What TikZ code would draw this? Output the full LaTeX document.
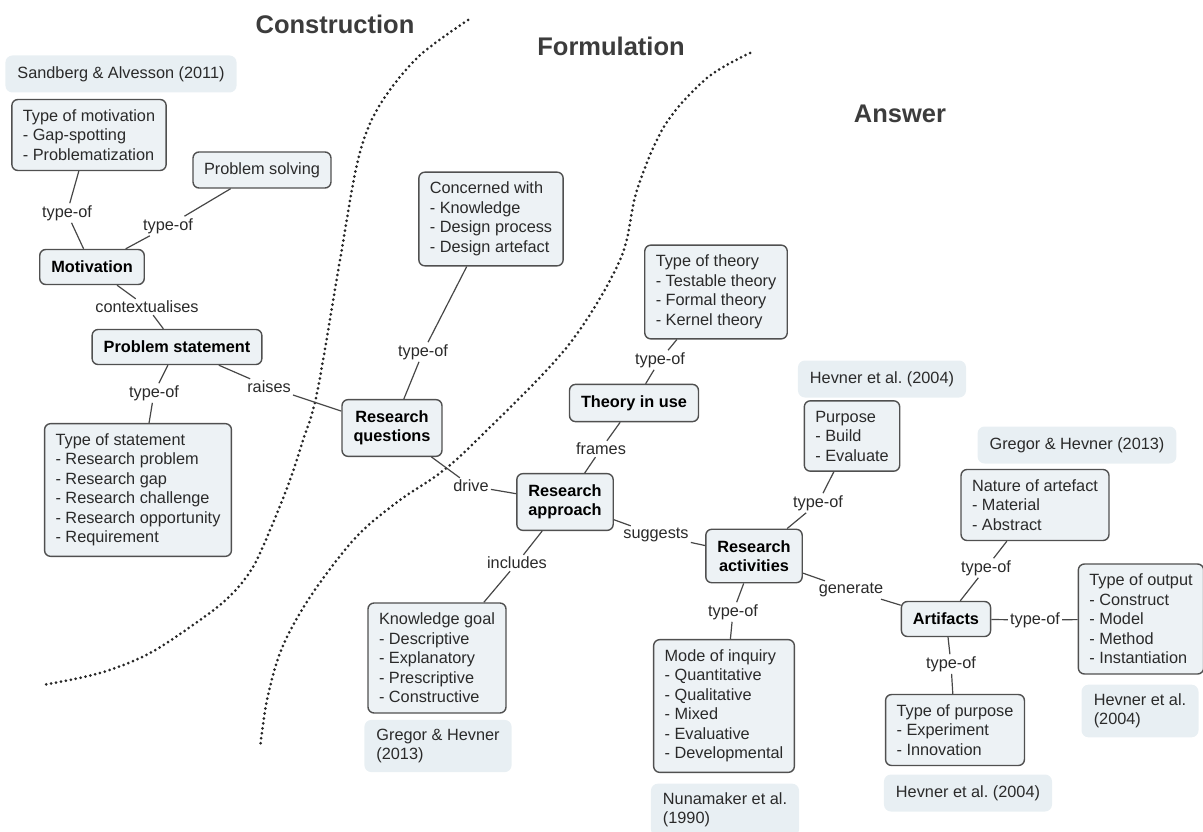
\documentclass[tikz,border=0pt]{standalone}
\usepackage{fontspec}
\setmainfont{Liberation Sans}
\frenchspacing
\definecolor{conceptfill}{HTML}{EDF2F5}
\definecolor{reffill}{HTML}{E8EFF3}
\definecolor{bordergray}{HTML}{505050}
\definecolor{linegray}{HTML}{474747}
\definecolor{textgray}{HTML}{2A2A2A}
\definecolor{titlegray}{HTML}{3C3C3C}
\tikzset{
  concept/.style={draw=bordergray, fill=conceptfill, rounded corners=6pt, line width=1.4pt,
    inner xsep=11pt, inner ysep=10pt, minimum height=36pt, align=left, text=textgray,
    font=\fontsize{16.3}{19.5}\selectfont},
  keyc/.style={draw=bordergray, fill=conceptfill, rounded corners=6pt, line width=1.4pt,
    inner xsep=11.5pt, inner ysep=11pt, minimum height=35pt, align=center, text=black,
    font=\fontsize{16.3}{19.5}\selectfont\bfseries},
  ref/.style={fill=reffill, rounded corners=7pt, inner xsep=12pt, inner ysep=9pt,
    minimum height=37pt, align=left, text=textgray, font=\fontsize{16.3}{19.5}\selectfont},
  lbl/.style={inner sep=2pt, text=textgray, font=\fontsize{16.3}{18}\selectfont},
  link/.style={draw=linegray, line width=1.2pt},
  title/.style={text=titlegray, font=\fontsize{25.5}{30}\selectfont\bfseries},
  divider/.style={draw=black!85, line width=3pt, dash pattern=on 0pt off 5pt, line cap=round}
}
\begin{document}
\begin{tikzpicture}[x=1pt,y=-1pt]
\useasboundingbox (0,0) rectangle (1203,832);

% titles
\node[title] (tcons) at (335,24) {Construction};
\node[title] (tform) at (611,46) {Formulation};
\node[title] (tans) at (900,114) {Answer};

% dividers
\draw[divider] plot[smooth, tension=0.55] coordinates {(468,20) (417,58) (378,108) (358,160) (340,260) (317,393) (303,440) (290,480) (273,523) (253,567) (230,596) (200,620) (150,653) (100,673) (43,685)};
\draw[divider] plot[smooth, tension=0.55] coordinates {(750,53) (707,78) (665,125) (637,190) (620,260) (567,347) (477,440) (440,473) (400,500) (360,533) (327,573) (300,613) (280,653) (267,700) (260,748)};

% reference boxes
\node[ref] (rsand) at (121,74) {Sandberg \& Alvesson (2011)};
\node[ref] (rhev1) at (882,379) {Hevner et al. (2004)};
\node[ref] (rgre1) at (1077,445) {Gregor \& Hevner (2013)};
\node[ref, minimum width=144pt] (rgre2) at (438,746) {Gregor \& Hevner\\(2013)};
\node[ref, minimum width=117pt] (rhev2) at (1140,711) {Hevner et al.\\(2004)};
\node[ref] (rhev3) at (968,793) {Hevner et al. (2004)};
\node[ref, minimum width=147pt] (rnuna) at (725,810) {Nunamaker et al.\\(1990)};

% key concepts
\node[keyc] (motiv) at (92,267) {Motivation};
\node[keyc] (probst) at (177,347) {Problem statement};
\node[keyc] (rq) at (392,428) {Research\\questions};
\node[keyc] (theory) at (634,403) {Theory in use};
\node[keyc] (rapp) at (565,502) {Research\\approach};
\node[keyc] (ract) at (754,556) {Research\\activities};
\node[keyc] (artif) at (946,619) {Artifacts};

% detail concepts
\node[concept] (tmot) at (89,135) {Type of motivation\\- Gap-spotting\\- Problematization};
\node[concept] (psolv) at (262,170) {Problem solving};
\node[concept] (tstat) at (138,490) {Type of statement\\- Research problem\\- Research gap\\- Research challenge\\- Research opportunity\\- Requirement};
\node[concept] (concw) at (491,219) {Concerned with\\- Knowledge\\- Design process\\- Design artefact};
\node[concept] (ttheo) at (716,292) {Type of theory\\- Testable theory\\- Formal theory\\- Kernel theory};
\node[concept] (purp) at (852,436) {Purpose\\- Build\\- Evaluate};
\node[concept] (natart) at (1035,505) {Nature of artefact\\- Material\\- Abstract};
\node[concept] (tout) at (1141,619) {Type of output\\- Construct\\- Model\\- Method\\- Instantiation};
\node[concept] (tpurp) at (955,730) {Type of purpose\\- Experiment\\- Innovation};
\node[concept] (kgoal) at (437,658) {Knowledge goal\\- Descriptive\\- Explanatory\\- Prescriptive\\- Constructive};
\node[concept] (mode) at (724,706) {Mode of inquiry\\- Quantitative\\- Qualitative\\- Mixed\\- Evaluative\\- Developmental};

% link labels
\node[lbl] (l1) at (67,213) {type-of};
\node[lbl] (l2) at (168,226) {type-of};
\node[lbl] (l3) at (147,307) {contextualises};
\node[lbl] (l4) at (154,393) {type-of};
\node[lbl] (l5) at (269,387) {raises};
\node[lbl] (l6) at (423,352) {type-of};
\node[lbl] (l7) at (660,360) {type-of};
\node[lbl] (l8) at (601,449) {frames};
\node[lbl] (l9) at (471,486) {drive};
\node[lbl] (l10) at (656,535) {suggests};
\node[lbl] (l11) at (517,563) {includes};
\node[lbl] (l12) at (818,503) {type-of};
\node[lbl] (l13) at (733,612) {type-of};
\node[lbl] (l14) at (851,590) {generate};
\node[lbl] (l15) at (986,568) {type-of};
\node[lbl] (l16) at (1035,620) {type-of};
\node[lbl] (l17) at (951,664) {type-of};

% connectors
\draw[link] (tmot) -- (l1) -- (motiv);
\draw[link] (psolv) -- (l2) -- (motiv);
\draw[link] (motiv) -- (l3) -- (probst);
\draw[link] (probst) -- (l4) -- (tstat);
\draw[link] (probst) -- (l5) -- (rq);
\draw[link] (concw) -- (l6) -- (rq);
\draw[link] (ttheo) -- (l7) -- (theory);
\draw[link] (theory) -- (l8) -- (rapp);
\draw[link] (rq) -- (l9) -- (rapp);
\draw[link] (rapp) -- (l10) -- (ract);
\draw[link] (rapp) -- (l11) -- (kgoal);
\draw[link] (purp) -- (l12) -- (ract);
\draw[link] (ract) -- (l13) -- (mode);
\draw[link] (ract) -- (l14) -- (artif);
\draw[link] (natart) -- (l15) -- (artif);
\draw[link] (artif) -- (l16) -- (tout);
\draw[link] (artif) -- (l17) -- (tpurp);
\end{tikzpicture}
\end{document}
